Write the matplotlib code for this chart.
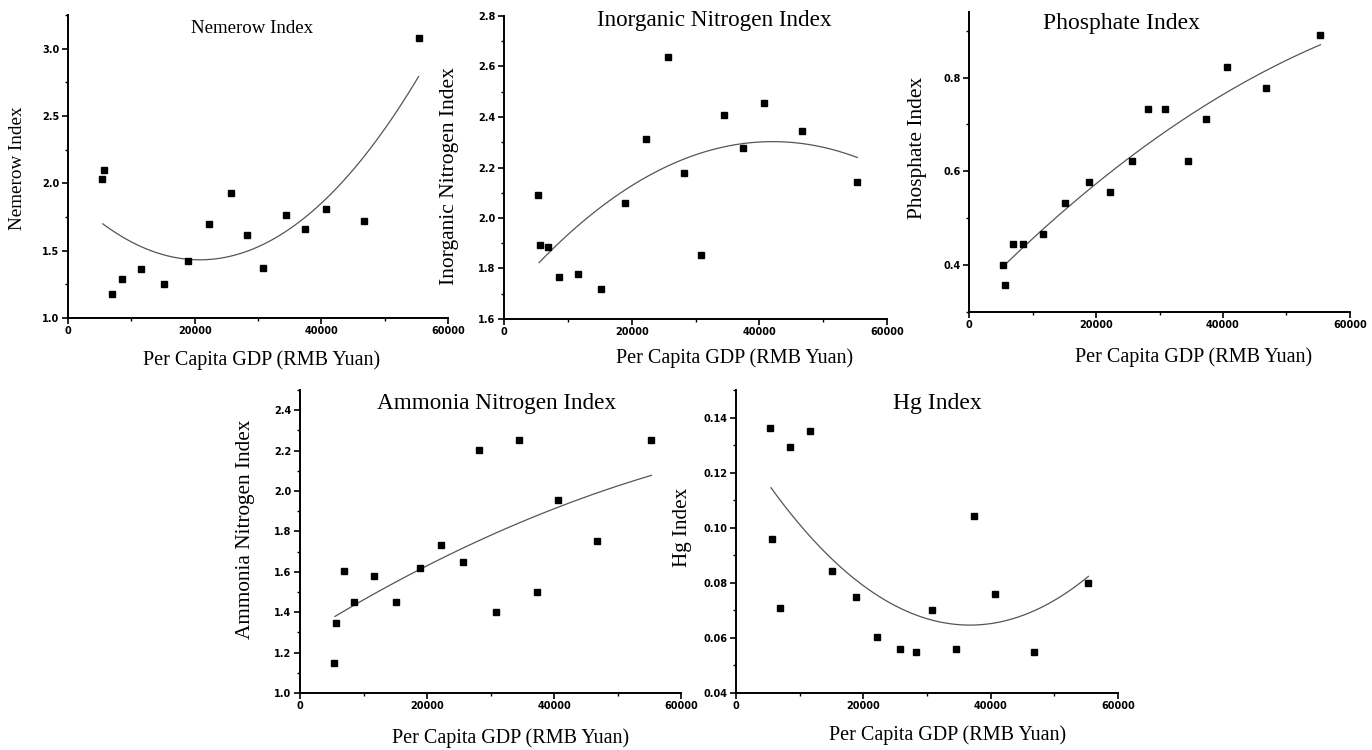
import numpy as np
import matplotlib
matplotlib.use("Agg")
import matplotlib.pyplot as plt
from matplotlib.ticker import MultipleLocator, FixedLocator, FixedFormatter

# ---------------- data ----------------
gdp = [5300, 5700, 6900, 8550, 11600, 15120, 18880, 22200, 25730, 28230,
       30800, 34490, 37370, 40660, 46750, 55350]

nemerow = [2.03, 2.10, 1.18, 1.29, 1.364, 1.255, 1.421, 1.699, 1.93, 1.615,
           1.369, 1.768, 1.662, 1.806, 1.721, 3.077]
inorganic_n = [2.090, 1.892, 1.887, 1.765, 1.778, 1.720, 2.059, 2.314, 2.638,
               2.179, 1.854, 2.406, 2.276, 2.454, 2.345, 2.141]
phosphate = [0.400, 0.357, 0.446, 0.446, 0.467, 0.532, 0.577, 0.557, 0.622,
             0.733, 0.733, 0.622, 0.712, 0.823, 0.778, 0.890]
ammonia_n = [1.147, 1.346, 1.602, 1.450, 1.577, 1.450, 1.619, 1.731, 1.650,
             2.203, 1.402, 2.251, 1.500, 1.955, 1.754, 2.251]
hg = [0.1362, 0.0960, 0.0710, 0.1292, 0.1352, 0.0842, 0.0748, 0.0602, 0.0560,
      0.0549, 0.0701, 0.0560, 0.1042, 0.0760, 0.0549, 0.0801]

titles = ["Nemerow Index", "Inorganic Nitrogen Index", "Phosphate Index",
          "Ammonia Nitrogen Index", "Hg Index"]
xlabel = "Per Capita GDP (RMB Yuan)"
x_ticks = [0, 20000, 40000, 60000]
x_ticklabels = ["0", "20000", "40000", "60000"]

# ---------------- layout ----------------
W, H = 1372, 750
fig = plt.figure(figsize=(W / 100, H / 100), dpi=100)
fig.patch.set_facecolor("white")

SERIF = ["Liberation Serif", "DejaVu Serif"]

panels = [
    dict(px=(68, 448, 15, 318), y=nemerow, ylim=(1.0, 3.25), major=0.5, minor=0.25, fmt="%.1f",
         tpos=(0.484, 0.955), tsize=13.6, ysize=13.8, ylpos=(-0.132, 0.493), xlpos=(0.509, -0.139)),
    dict(px=(504, 887, 16, 319), y=inorganic_n, ylim=(1.6, 2.8), major=0.2, minor=0.1, fmt="%.1f",
         tpos=(0.55, 0.985), tsize=16.7, ysize=15.5, ylpos=(-0.141, 0.472), xlpos=(0.602, -0.129)),
    dict(px=(969, 1350, 12, 312), y=phosphate, ylim=(0.3, 0.94), major=0.2, minor=0.1, fmt="%.1f",
         tpos=(0.40, 0.963), tsize=17, ysize=15.4, ylpos=(-0.136, 0.548), xlpos=(0.589, -0.15)),
    dict(px=(300, 681, 390, 693), y=ammonia_n, ylim=(1.0, 2.5), major=0.2, minor=0.1, fmt="%.1f",
         tpos=(0.517, 0.957), tsize=16.7, ysize=15.3, ylpos=(-0.144, 0.541), xlpos=(0.553, -0.149)),
    dict(px=(736, 1118, 390, 693), y=hg, ylim=(0.04, 0.15), major=0.02, minor=0.01, fmt="%.2f",
         tpos=(0.526, 0.954), tsize=17, ysize=15.2, ylpos=(-0.141, 0.546), xlpos=(0.554, -0.139)),
]

for p, title in zip(panels, titles):
    l, r, t, b = p["px"]
    ax = fig.add_axes([l / W, 1 - b / H, (r - l) / W, (b - t) / H])
    ax.set_xlim(0, 60000)
    ax.set_ylim(*p["ylim"])
    for s in ("top", "right"):
        ax.spines[s].set_visible(False)
    for s in ("left", "bottom"):
        ax.spines[s].set_linewidth(1.4)
        ax.spines[s].set_color("black")

    x = np.array(gdp, dtype=float)
    y = np.array(p["y"], dtype=float)
    ax.plot(x, y, linestyle="none", marker="s", markersize=4.6,
            color="black", zorder=3)

    # quadratic regression curve, drawn over the data range
    coef = np.polyfit(x, y, 2)
    xf = np.linspace(x.min() + 200, x.max(), 60)
    ax.plot(xf, np.polyval(coef, xf), color="#555555", linewidth=0.9, zorder=2)

    # ticks
    ax.xaxis.set_major_locator(FixedLocator(x_ticks))
    ax.xaxis.set_major_formatter(FixedFormatter(x_ticklabels))
    ax.xaxis.set_minor_locator(MultipleLocator(10000))
    ax.yaxis.set_major_locator(MultipleLocator(p["major"]))
    ax.yaxis.set_minor_locator(MultipleLocator(p["minor"]))
    ax.yaxis.set_major_formatter(matplotlib.ticker.FormatStrFormatter(p["fmt"]))
    ax.tick_params(which="major", direction="out", length=4, width=1.2,
                   labelsize=7, pad=2)
    ax.tick_params(which="minor", direction="out", length=2.5, width=1.0)
    for lab in ax.get_xticklabels() + ax.get_yticklabels():
        lab.set_fontweight("bold")
        lab.set_family("DejaVu Sans")

    ax.text(*p["tpos"], title, transform=ax.transAxes, ha="center", va="center",
            fontsize=p["tsize"], family=SERIF)
    ax.text(*p["ylpos"], title, transform=ax.transAxes, ha="center", va="center",
            rotation=90, fontsize=p["ysize"], family=SERIF)
    ax.text(*p["xlpos"], xlabel, transform=ax.transAxes, ha="center", va="center",
            fontsize=14.5, family=SERIF)

fig.savefig("out.png", dpi=100, facecolor="white")
